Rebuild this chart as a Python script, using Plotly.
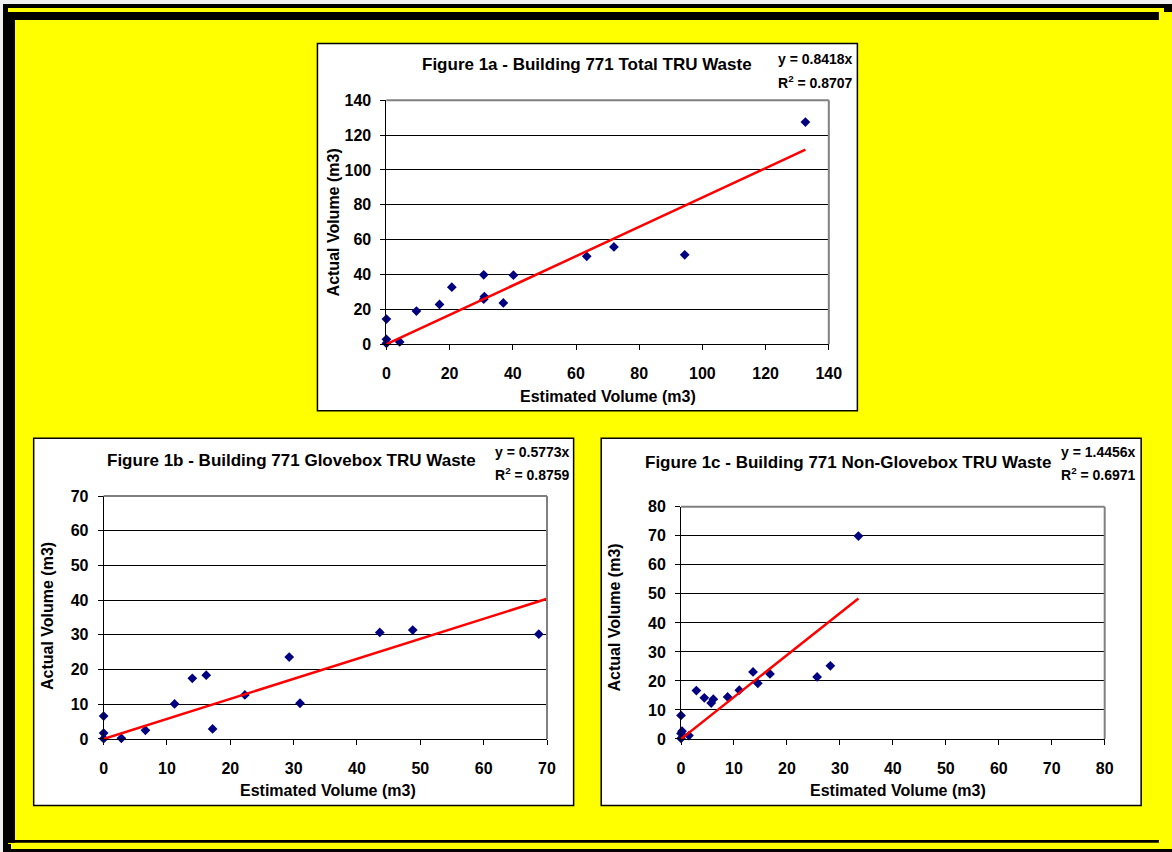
import plotly.graph_objects as go

# ---------------- data ----------------
titles = ["Figure 1a - Building 771 Total TRU Waste",
          "Figure 1b - Building 771 Glovebox TRU Waste",
          "Figure 1c - Building 771 Non-Glovebox TRU Waste"]
eq_lines = ["y = 0.8418x", "y = 0.5773x", "y = 1.4456x"]
r2_values = ["0.8707", "0.8759", "0.6971"]
slopes = [0.8418, 0.5773, 1.4456]
trend_x_end = [132.6, 70.0, 33.5]
x_title = "Estimated Volume (m3)"
y_title = "Actual Volume (m3)"

fig1a_est = [0, 0, 0, 4.2, 9.5, 16.8, 20.7, 30.8, 31.0, 30.8, 37.0, 40.2, 63.4, 72.0, 94.4, 132.6]
fig1a_act = [14.4, 2.8, 0.5, 1.3, 19.0, 22.8, 32.7, 39.8, 27.3, 25.8, 23.7, 39.6, 50.4, 55.8, 51.3, 127.5]

fig1b_est = [0, 0, 0, 2.8, 6.6, 11.2, 14.0, 16.2, 17.2, 22.3, 29.3, 31.0, 43.6, 48.8, 68.7]
fig1b_act = [6.6, 1.7, 0.1, 0.2, 2.5, 10.1, 17.5, 18.4, 2.9, 12.7, 23.6, 10.3, 30.7, 31.4, 30.2]

fig1c_est = [0, 0, 0.2, 0, 1.5, 2.9, 4.4, 5.7, 6.1, 8.8, 11.0, 13.6, 14.5, 16.8, 25.7, 28.2, 33.5]
fig1c_act = [8.1, 1.9, 2.7, 0.2, 1.2, 16.7, 14.2, 12.4, 13.7, 14.5, 16.8, 23.1, 19.2, 22.4, 21.4, 25.2, 69.9]

axis_max = [140, 70, 80]
axis_dtick = [20, 10, 10]

series = [(fig1a_est, fig1a_act), (fig1b_est, fig1b_act), (fig1c_est, fig1c_act)]

# ---------------- layout (page-pixel geometry) ----------------
PAGE_W, PAGE_H = 1172, 852
M = 8                      # default body margin of the page
W, H = PAGE_W - 2 * M, PAGE_H - 2 * M
def px(x):
    return (x - M) / W
def py(y):
    return 1 - (y - M) / H

layouts = [
    dict(box=(318, 36, 866, 411), plot=(388, 94, 837, 343), title=(592, 57),
         eq_right=864, eq_y=(52, 75), xt=(612.5, 396), yt=(334, 218.5)),
    dict(box=(30, 439, 578, 814), plot=(101, 498, 551, 746), title=(292, 462),
         eq_right=576, eq_y=(453, 476), xt=(329, 799), yt=(44, 620)),
    dict(box=(606, 439, 1154, 814), plot=(687, 509, 1117, 746), title=(856, 464),
         eq_right=1151, eq_y=(453, 475), xt=(907, 799), yt=(619, 622)),
]

FONT = "Liberation Sans, Arial, sans-serif"
fig = go.Figure()
shapes = []
annotations = []

# page frame (black band top / left / bottom)
shapes.append(dict(type="rect", xref="paper", yref="paper", x0=px(3), x1=px(PAGE_W), y0=py(4), y1=py(12),
                   fillcolor="black", line_width=0, layer="below"))
shapes.append(dict(type="rect", xref="paper", yref="paper", x0=px(3), x1=px(11), y0=py(4), y1=py(PAGE_H),
                   fillcolor="black", line_width=0, layer="below"))
shapes.append(dict(type="rect", xref="paper", yref="paper", x0=px(3), x1=px(PAGE_W), y0=py(849), y1=py(PAGE_H),
                   fillcolor="black", line_width=0, layer="below"))

for i, (lay, (xs, ys)) in enumerate(zip(layouts, series)):
    n = "" if i == 0 else str(i + 1)
    xa, ya = "x" + n, "y" + n
    bx0, by0, bx1, by1 = lay["box"]
    shapes.append(dict(type="rect", xref="paper", yref="paper",
                       x0=px(bx0), x1=px(bx1), y0=py(by1), y1=py(by0),
                       fillcolor="white", line=dict(color="black", width=1.5), layer="below"))
    pl0, pt0, pr0, pb0 = lay["plot"]
    common = dict(showline=True, linecolor="black", linewidth=1, ticks="outside",
                  ticklen=5, tickwidth=1, tickcolor="black", mirror=False,
                  tickfont=dict(family=FONT, size=16, color="black", weight="bold"),
                  zeroline=False, fixedrange=True)
    fig.update_layout(**{
        "xaxis" + n: dict(domain=[px(pl0), px(pr0)], range=[0, axis_max[i]], dtick=axis_dtick[i],
                          tick0=0, showgrid=False, anchor=ya, ticklabelstandoff=10, **common),
        "yaxis" + n: dict(domain=[py(pb0), py(pt0)], range=[0, axis_max[i]], dtick=axis_dtick[i],
                          tick0=0, showgrid=True, gridcolor="black", gridwidth=1, anchor=xa,
                          ticklabelstandoff=6, **common),
    })
    # gray top and right plot-area border
    shapes.append(dict(type="line", xref=xa + " domain", yref=ya + " domain", x0=0, x1=1, y0=1, y1=1,
                       line=dict(color="#808080", width=2), layer="above"))
    shapes.append(dict(type="line", xref=xa + " domain", yref=ya + " domain", x0=1, x1=1, y0=0, y1=1,
                       line=dict(color="#808080", width=2), layer="above"))

    fig.add_trace(go.Scatter(x=xs, y=ys, mode="markers", xaxis=xa, yaxis=ya,
                             marker=dict(symbol="diamond", size=7.5, color="#000080"),
                             showlegend=False, cliponaxis=False))
    fig.add_trace(go.Scatter(x=[0, trend_x_end[i]], y=[0, slopes[i] * trend_x_end[i]], mode="lines",
                             xaxis=xa, yaxis=ya, line=dict(color="#ff0000", width=2.5),
                             showlegend=False))

    tx, ty = lay["title"]
    annotations.append(dict(xref="paper", yref="paper", x=px(tx), y=py(ty), text=titles[i],
                            showarrow=False, xanchor="center", yanchor="middle",
                            font=dict(family=FONT, size=17, color="black", weight="bold")))
    annotations.append(dict(xref="paper", yref="paper", x=px(lay["eq_right"]), y=py(lay["eq_y"][0]),
                            text=eq_lines[i], showarrow=False, xanchor="right", yanchor="middle",
                            font=dict(family=FONT, size=14, color="black", weight="bold")))
    annotations.append(dict(xref="paper", yref="paper", x=px(lay["eq_right"]), y=py(lay["eq_y"][1]),
                            text="R<sup>2</sup> = " + r2_values[i], showarrow=False,
                            xanchor="right", yanchor="middle",
                            font=dict(family=FONT, size=14, color="black", weight="bold")))
    xtx, xty = lay["xt"]
    annotations.append(dict(xref="paper", yref="paper", x=px(xtx), y=py(xty), text=x_title,
                            showarrow=False, xanchor="center", yanchor="middle",
                            font=dict(family=FONT, size=16, color="black", weight="bold")))
    ytx, yty = lay["yt"]
    annotations.append(dict(xref="paper", yref="paper", x=px(ytx), y=py(yty), text=y_title,
                            showarrow=False, xanchor="center", yanchor="middle", textangle=-90,
                            font=dict(family=FONT, size=16, color="black", weight="bold")))

fig.update_layout(width=W, height=H, autosize=False,
                  margin=dict(l=0, r=0, t=0, b=0, pad=0),
                  paper_bgcolor="#FFFF00", plot_bgcolor="#FFFFCC",
                  shapes=shapes, annotations=annotations, showlegend=False)

page_bg = ("linear-gradient(to bottom, #f0f0f0 0px, #f0f0f0 4px, transparent 4px), "
           "linear-gradient(to right, #f0f0f0 0px, #f0f0f0 3px, #000 3px, #000 11px, transparent 11px), "
           "linear-gradient(to bottom, #000 0px, #000 12px, #FFFF00 12px, #FFFF00 849px, #000 849px)")

fig.write_html("out.html", config={"displayModeBar": False, "staticPlot": True},
               post_script="document.body.style.background='" + page_bg + "';")
